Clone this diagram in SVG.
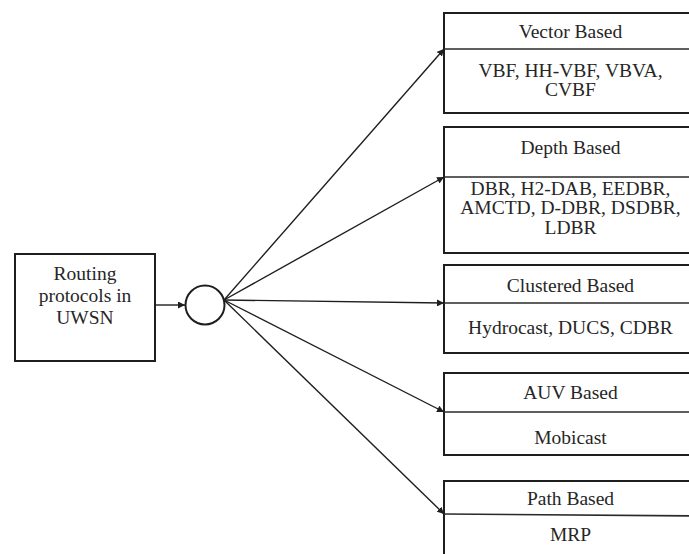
<svg xmlns="http://www.w3.org/2000/svg" width="689" height="554" viewBox="0 0 689 554">
  <style>
    .box { fill: #fff; stroke: #1e1e1e; stroke-width: 2; }
    .div { stroke: #2a2a2a; stroke-width: 1.6; fill: none; }
    .lbl { font-family: "Liberation Serif", "Times New Roman", serif; font-size: 19.5px; fill: #262626; text-anchor: middle; }
    .edge { stroke: #1e1e1e; stroke-width: 1.4; fill: none; marker-end: url(#head); }
  </style>
  <defs>
    <marker id="head" viewBox="0 0 10 10" refX="10" refY="5" markerWidth="7" markerHeight="7" markerUnits="userSpaceOnUse" orient="auto">
      <path d="M0,0 L10,5 L0,10 z" fill="#1e1e1e"/>
    </marker>
  </defs>
  <rect width="689" height="554" fill="#fff"/>

  <g id="root">
    <rect class="box" x="15" y="254" width="140" height="107"/>
    <text class="lbl" x="85" y="280">Routing</text>
    <text class="lbl" x="85" y="302">protocols in</text>
    <text class="lbl" x="85" y="323.5">UWSN</text>
  </g>

  <g id="hub">
    <circle cx="205" cy="305" r="19.5" fill="#fff" stroke="#1e1e1e" stroke-width="2"/>
  </g>

  <g id="vector">
    <rect class="box" x="444" y="13" width="260" height="100"/>
    <line class="div" x1="444" y1="49" x2="704" y2="49"/>
    <text class="lbl" x="570.5" y="38">Vector Based</text>
    <text class="lbl" x="570.5" y="77">VBF, HH-VBF, VBVA,</text>
    <text class="lbl" x="570.5" y="96">CVBF</text>
  </g>

  <g id="depth">
    <rect class="box" x="444" y="127" width="260" height="126"/>
    <line class="div" x1="444" y1="177" x2="704" y2="177"/>
    <text class="lbl" x="570.5" y="154">Depth Based</text>
    <text class="lbl" x="570.5" y="194.5">DBR, H2-DAB, EEDBR,</text>
    <text class="lbl" x="570.5" y="214">AMCTD, D-DBR, DSDBR,</text>
    <text class="lbl" x="570.5" y="233.5">LDBR</text>
  </g>

  <g id="clustered">
    <rect class="box" x="444" y="265" width="260" height="88"/>
    <line class="div" x1="444" y1="303" x2="704" y2="303"/>
    <text class="lbl" x="570.5" y="291.5">Clustered Based</text>
    <text class="lbl" x="570.5" y="334">Hydrocast, DUCS, CDBR</text>
  </g>

  <g id="auv">
    <rect class="box" x="444" y="373" width="260" height="82"/>
    <line class="div" x1="444" y1="412" x2="704" y2="412"/>
    <text class="lbl" x="570.5" y="398.5">AUV Based</text>
    <text class="lbl" x="570.5" y="443.5">Mobicast</text>
  </g>

  <g id="path">
    <rect class="box" x="444" y="481" width="260" height="90"/>
    <line class="div" x1="444" y1="514" x2="704" y2="516"/>
    <text class="lbl" x="570.5" y="505">Path Based</text>
    <text class="lbl" x="570.5" y="541">MRP</text>
  </g>

  <g id="connectors">
    <line class="edge" x1="155" y1="305" x2="185" y2="305"/>
    <line class="edge" x1="224" y1="300" x2="444" y2="49"/>
    <line class="edge" x1="224" y1="300" x2="444" y2="177"/>
    <line class="edge" x1="224" y1="300" x2="444" y2="303"/>
    <line class="edge" x1="224" y1="300" x2="444" y2="412"/>
    <line class="edge" x1="224" y1="300" x2="444" y2="514"/>
  </g>
</svg>
